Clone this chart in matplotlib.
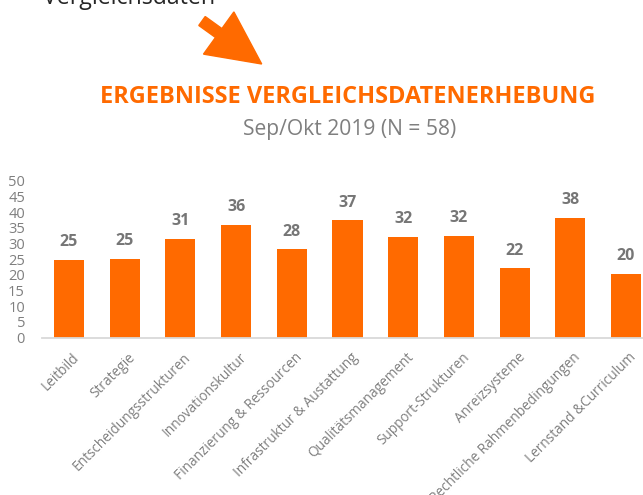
import numpy as np
import matplotlib
matplotlib.use('Agg')
import matplotlib.pyplot as plt
from matplotlib.patches import FancyArrow
from matplotlib.transforms import IdentityTransform, ScaledTranslation

# --- data ---
categories = ['Leitbild', 'Strategie', 'Entscheidungsstrukturen', 'Innovationskultur',
              'Finanzierung & Ressourcen', 'Infrastruktur & Austattung', 'Qualitätsmanagement',
              'Support-Strukturen', 'Anreizsysteme', 'Rechtliche Rahmenbedingungen',
              'Lernstand &Curriculum']
values = [24.7, 25.0, 31.4, 35.9, 28.1, 37.4, 32.2, 32.4, 22.1, 38.1, 20.3]
value_labels = ['25', '25', '31', '36', '28', '37', '32', '32', '22', '38', '20']
yticks = [0, 5, 10, 15, 20, 25, 30, 35, 40, 45, 50]

ORANGE = '#FF6A00'
GRAY = '#7F7F7F'
LABEL_GRAY = '#767676'

plt.rcParams['font.family'] = ['Open Sans', 'DejaVu Sans']

W, H = 643, 495
fig = plt.figure(figsize=(W / 100, H / 100), dpi=100)

# axes placed in pixel terms: left edge 41.7px, baseline at y=337.5, top (50) at y=180.8
ax = fig.add_axes([41.7 / W, (H - 337.5) / H, 1 - 41.7 / W, (337.5 - 180.8) / H])
x = np.arange(len(categories))
ax.bar(x, values, width=0.54, color=ORANGE, zorder=2)
for xi, v, lab in zip(x, values, value_labels):
    ax.annotate(lab, (xi, v), xytext=(0, 7), textcoords='offset points',
                ha='center', va='bottom', fontsize=11.5, fontweight='bold', color=LABEL_GRAY)

ax.set_xlim(-0.49, 10.305)
ax.set_ylim(0, 50)
ax.set_yticks(yticks)
ax.set_xticks(x)
ax.set_xticklabels(categories)
for s in ['top', 'right', 'left']:
    ax.spines[s].set_visible(False)
ax.spines['bottom'].set_color('#D9D9D9')
ax.spines['bottom'].set_linewidth(1.3)
ax.tick_params(axis='y', length=0, pad=12, labelsize=10.5, labelcolor=GRAY)
ax.tick_params(axis='x', length=0, pad=9, labelsize=9.8, labelcolor=GRAY)
off = ScaledTranslation(3 / 100, 0, fig.dpi_scale_trans)
for t in ax.get_xticklabels():
    t.set_rotation(45)
    t.set_ha('right')
    t.set_va('top')
    t.set_rotation_mode('anchor')
    t.set_transform(t.get_transform() + off)

# headings
fig.text(347.5 / W, 1 - 97 / H, 'ERGEBNISSE VERGLEICHSDATENERHEBUNG', ha='center', va='center',
         fontsize=16.9, fontweight='bold', color=ORANGE)
fig.text(349.5 / W, 1 - 130 / H, 'Sep/Okt 2019 (N = 58)', ha='center', va='center',
         fontsize=15.2, color=GRAY)
fig.text(43 / W, 1 - 4 / H, 'Vergleichsdaten', ha='left', va='baseline',
         fontsize=16.7, color='#262626')

# orange arrow (pixel coords, origin bottom-left)
arrow = FancyArrow(202, H - 21, 59.7, -43, width=11, head_width=52, head_length=53,
                   length_includes_head=True, color=ORANGE, transform=IdentityTransform())
fig.add_artist(arrow)

fig.savefig('out.png', dpi=100)
